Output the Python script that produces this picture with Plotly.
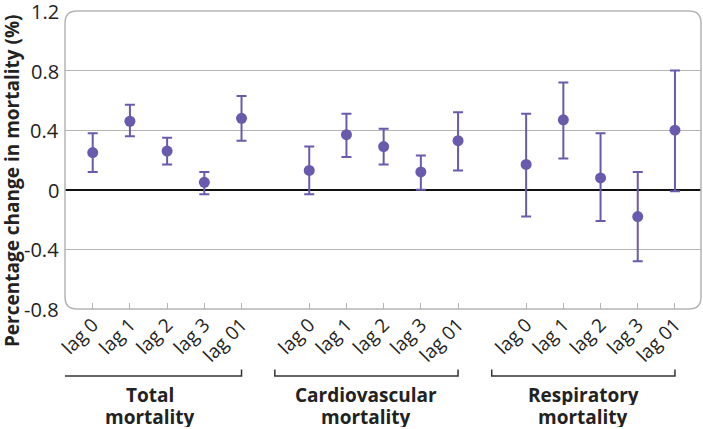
import plotly.graph_objects as go

group_line1 = ["Total", "Cardiovascular", "Respiratory"]
group_line2 = ["mortality", "mortality", "mortality"]
lags = ["lag 0", "lag 1", "lag 2", "lag 3", "lag 01"]

total_est = [0.25, 0.46, 0.26, 0.05, 0.48]
total_lo = [0.12, 0.36, 0.17, -0.03, 0.33]
total_hi = [0.38, 0.57, 0.35, 0.12, 0.63]

cardio_est = [0.13, 0.37, 0.29, 0.12, 0.33]
cardio_lo = [-0.03, 0.22, 0.17, 0.00, 0.13]
cardio_hi = [0.29, 0.51, 0.41, 0.23, 0.52]

resp_est = [0.17, 0.47, 0.08, -0.18, 0.40]
resp_lo = [-0.18, 0.21, -0.21, -0.48, -0.01]
resp_hi = [0.51, 0.72, 0.38, 0.12, 0.80]

y_ticks = [-0.8, -0.4, 0, 0.4, 0.8, 1.2]
y_ticktext = ["-0.8", "-0.4", "0", "0.4", "0.8", "1.2"]

PURPLE = "#6a5aae"
FONT = "Open Sans"
TXT = "#222222"

group_offsets = [0, 5.82, 11.65]
series = [(total_est, total_lo, total_hi), (cardio_est, cardio_lo, cardio_hi), (resp_est, resp_lo, resp_hi)]

fig = go.Figure()
tickvals, ticktext = [], []
for g, (est, lo, hi) in enumerate(series):
    xs = [group_offsets[g] + i for i in range(len(lags))]
    tickvals += xs
    ticktext += lags
    fig.add_trace(go.Scatter(
        x=xs, y=est, mode="markers",
        marker=dict(color=PURPLE, size=11),
        error_y=dict(type="data", symmetric=False,
                     array=[h - e for h, e in zip(hi, est)],
                     arrayminus=[e - l for e, l in zip(est, lo)],
                     color=PURPLE, thickness=2, width=5),
        showlegend=False, hoverinfo="skip"))
    # bracket
    x0 = xs[0] - 0.925
    x1 = xs[-1]
    fig.add_shape(type="path", xref="x", yref="paper",
                  path=f"M {x0},-0.203 L {x0},-0.225 L {x1},-0.225 L {x1},-0.203",
                  line=dict(color="#333333", width=1.5))
    fig.add_annotation(x=(x0 + x1) / 2, xref="x", y=-0.29, yref="paper",
                       text=f"<b>{group_line1[g]}</b>", showarrow=False,
                       yanchor="middle", xanchor="center", height=20,
                       font=dict(family=FONT, size=19, color=TXT))
    fig.add_annotation(x=(x0 + x1) / 2, xref="x", y=-0.361, yref="paper",
                       text=f"<b>{group_line2[g]}</b>", showarrow=False,
                       yanchor="middle", xanchor="center", height=20,
                       font=dict(family=FONT, size=19, color=TXT))

# y tick labels drawn as annotations (the top one sits on the plot edge)
for v, t in zip(y_ticks, y_ticktext):
    fig.add_annotation(x=0, xref="paper", y=v, yref="y", text=t, showarrow=False,
                       xanchor="right", yanchor="middle", xshift=-4, height=22,
                       font=dict(family=FONT, size=20, color=TXT))

# rounded plot border
W, H = 636, 298
r = 12
rx, ry = r / W, r / H
path = (f"M {rx},1 L {1-rx},1 Q 1,1 1,{1-ry} L 1,{ry} Q 1,0 {1-rx},0 "
        f"L {rx},0 Q 0,0 0,{ry} L 0,{1-ry} Q 0,1 {rx},1 Z")
fig.add_shape(type="path", xref="paper", yref="paper", path=path,
              line=dict(color="#b5b5b5", width=1.5), layer="above")

fig.add_annotation(x=-0.083, xref="paper", y=0.43, yref="paper",
                   text="<b>Percentage change in mortality (%)</b>", textangle=-90,
                   showarrow=False, xanchor="center", yanchor="middle",
                   font=dict(family=FONT, size=19, color=TXT))

fig.update_xaxes(range=[-0.745, 16.35], tickvals=tickvals, ticktext=ticktext,
                 tickangle=-45, ticks="inside", ticklen=6, tickcolor="#b5b5b5",
                 tickwidth=1, showgrid=False, zeroline=False, showline=False,
                 automargin=False,
                 tickfont=dict(family=FONT, size=19, color=TXT))
fig.update_yaxes(range=[-0.8, 1.2], tickvals=y_ticks, showticklabels=False,
                 showgrid=True, gridcolor="#b5b5b5", gridwidth=1,
                 zeroline=True, zerolinecolor="#111111", zerolinewidth=1.5,
                 showline=False, ticks="", automargin=False)

fig.update_layout(width=703, height=429, margin=dict(l=65, r=2, t=11, b=120),
                  plot_bgcolor="white", paper_bgcolor="white")

fig.write_html("out.html", config={"displayModeBar": False},
               post_script="document.body.style.margin='0';document.body.style.overflow='hidden';")
